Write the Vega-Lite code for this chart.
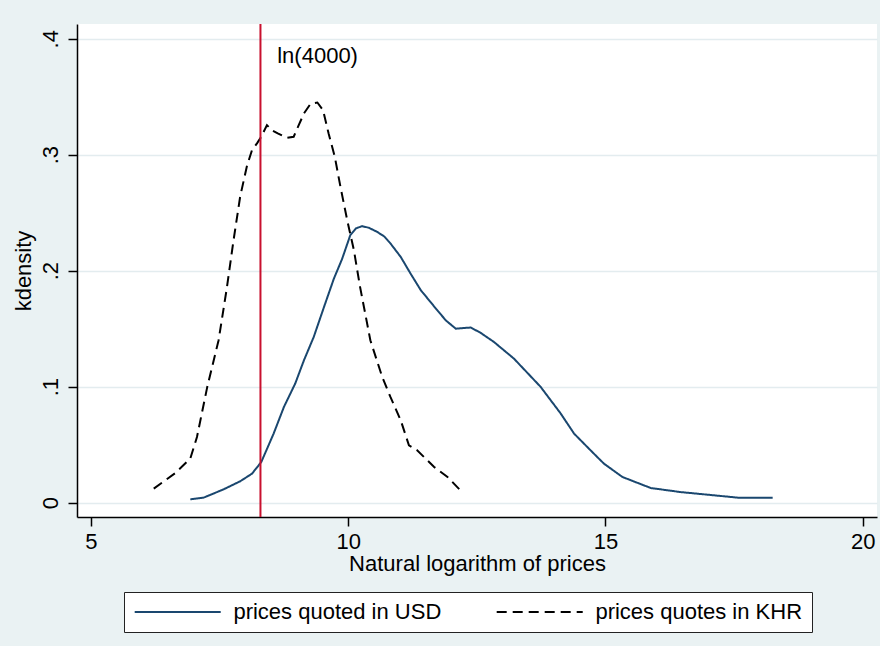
{
  "$schema": "https://vega.github.io/schema/vega-lite/v6.json",
  "width": 800,
  "height": 493,
  "autosize": {"type": "none"},
  "padding": {"left": 77, "top": 24, "right": 3, "bottom": 129},
  "background": "#EAF2F3",
  "config": {
    "view": {"fill": "#FFFFFF", "stroke": null},
    "font": "Liberation Sans",
    "axis": {
      "domainColor": "#000000", "domainWidth": 1.5,
      "tickColor": "#000000", "tickWidth": 1.5, "tickSize": 9,
      "labelFont": "Liberation Sans", "titleFont": "Liberation Sans",
      "labelFontSize": 22, "titleFontSize": 22,
      "labelColor": "#000000", "titleColor": "#000000",
      "titleFontWeight": "normal"
    },
    "legend": {
      "labelFont": "Liberation Sans", "labelFontSize": 22, "labelColor": "#000000"
    }
  },
  "datasets": {
    "curves": [
      {"series": "prices quotes in KHR", "x": 6.22, "y": 0.0121},
      {"series": "prices quotes in KHR", "x": 6.64, "y": 0.0255},
      {"series": "prices quotes in KHR", "x": 6.93, "y": 0.038},
      {"series": "prices quotes in KHR", "x": 7.06, "y": 0.0566},
      {"series": "prices quotes in KHR", "x": 7.26, "y": 0.0998},
      {"series": "prices quotes in KHR", "x": 7.48, "y": 0.140},
      {"series": "prices quotes in KHR", "x": 7.64, "y": 0.185},
      {"series": "prices quotes in KHR", "x": 7.77, "y": 0.226},
      {"series": "prices quotes in KHR", "x": 7.90, "y": 0.264},
      {"series": "prices quotes in KHR", "x": 8.03, "y": 0.290},
      {"series": "prices quotes in KHR", "x": 8.13, "y": 0.304},
      {"series": "prices quotes in KHR", "x": 8.23, "y": 0.310},
      {"series": "prices quotes in KHR", "x": 8.31, "y": 0.3155},
      {"series": "prices quotes in KHR", "x": 8.42, "y": 0.3255},
      {"series": "prices quotes in KHR", "x": 8.52, "y": 0.321},
      {"series": "prices quotes in KHR", "x": 8.63, "y": 0.3184},
      {"series": "prices quotes in KHR", "x": 8.81, "y": 0.3146},
      {"series": "prices quotes in KHR", "x": 8.94, "y": 0.3155},
      {"series": "prices quotes in KHR", "x": 9.01, "y": 0.3227},
      {"series": "prices quotes in KHR", "x": 9.14, "y": 0.3356},
      {"series": "prices quotes in KHR", "x": 9.27, "y": 0.344},
      {"series": "prices quotes in KHR", "x": 9.40, "y": 0.345},
      {"series": "prices quotes in KHR", "x": 9.51, "y": 0.3385},
      {"series": "prices quotes in KHR", "x": 9.62, "y": 0.318},
      {"series": "prices quotes in KHR", "x": 9.74, "y": 0.298},
      {"series": "prices quotes in KHR", "x": 9.85, "y": 0.272},
      {"series": "prices quotes in KHR", "x": 9.98, "y": 0.2436},
      {"series": "prices quotes in KHR", "x": 10.11, "y": 0.2177},
      {"series": "prices quotes in KHR", "x": 10.23, "y": 0.186},
      {"series": "prices quotes in KHR", "x": 10.43, "y": 0.140},
      {"series": "prices quotes in KHR", "x": 10.66, "y": 0.1084},
      {"series": "prices quotes in KHR", "x": 10.82, "y": 0.0911},
      {"series": "prices quotes in KHR", "x": 11.02, "y": 0.071},
      {"series": "prices quotes in KHR", "x": 11.18, "y": 0.0494},
      {"series": "prices quotes in KHR", "x": 11.34, "y": 0.0451},
      {"series": "prices quotes in KHR", "x": 11.67, "y": 0.0307},
      {"series": "prices quotes in KHR", "x": 11.93, "y": 0.0221},
      {"series": "prices quotes in KHR", "x": 12.18, "y": 0.0106},
      {"series": "prices quoted in USD", "x": 6.93, "y": 0.0028},
      {"series": "prices quoted in USD", "x": 7.19, "y": 0.0043},
      {"series": "prices quoted in USD", "x": 7.58, "y": 0.0115},
      {"series": "prices quoted in USD", "x": 7.90, "y": 0.0184},
      {"series": "prices quoted in USD", "x": 8.13, "y": 0.025},
      {"series": "prices quoted in USD", "x": 8.31, "y": 0.035},
      {"series": "prices quoted in USD", "x": 8.55, "y": 0.0595},
      {"series": "prices quoted in USD", "x": 8.75, "y": 0.0825},
      {"series": "prices quoted in USD", "x": 8.97, "y": 0.1027},
      {"series": "prices quoted in USD", "x": 9.14, "y": 0.1228},
      {"series": "prices quoted in USD", "x": 9.33, "y": 0.1429},
      {"series": "prices quoted in USD", "x": 9.53, "y": 0.1688},
      {"series": "prices quoted in USD", "x": 9.72, "y": 0.1930},
      {"series": "prices quoted in USD", "x": 9.88, "y": 0.2100},
      {"series": "prices quoted in USD", "x": 10.04, "y": 0.2306},
      {"series": "prices quoted in USD", "x": 10.15, "y": 0.2365},
      {"series": "prices quoted in USD", "x": 10.27, "y": 0.2384},
      {"series": "prices quoted in USD", "x": 10.40, "y": 0.2370},
      {"series": "prices quoted in USD", "x": 10.56, "y": 0.2335},
      {"series": "prices quoted in USD", "x": 10.70, "y": 0.2295},
      {"series": "prices quoted in USD", "x": 10.82, "y": 0.2235},
      {"series": "prices quoted in USD", "x": 11.02, "y": 0.2119},
      {"series": "prices quoted in USD", "x": 11.21, "y": 0.1976},
      {"series": "prices quoted in USD", "x": 11.41, "y": 0.1832},
      {"series": "prices quoted in USD", "x": 11.73, "y": 0.1659},
      {"series": "prices quoted in USD", "x": 11.90, "y": 0.1570},
      {"series": "prices quoted in USD", "x": 12.09, "y": 0.150},
      {"series": "prices quoted in USD", "x": 12.38, "y": 0.151},
      {"series": "prices quoted in USD", "x": 12.57, "y": 0.1465},
      {"series": "prices quoted in USD", "x": 12.83, "y": 0.1386},
      {"series": "prices quoted in USD", "x": 13.22, "y": 0.1242},
      {"series": "prices quoted in USD", "x": 13.74, "y": 0.0998},
      {"series": "prices quoted in USD", "x": 14.13, "y": 0.0768},
      {"series": "prices quoted in USD", "x": 14.39, "y": 0.0595},
      {"series": "prices quoted in USD", "x": 14.71, "y": 0.0451},
      {"series": "prices quoted in USD", "x": 14.97, "y": 0.0336},
      {"series": "prices quoted in USD", "x": 15.33, "y": 0.0221},
      {"series": "prices quoted in USD", "x": 15.88, "y": 0.0126},
      {"series": "prices quoted in USD", "x": 16.46, "y": 0.0091},
      {"series": "prices quoted in USD", "x": 17.11, "y": 0.0063},
      {"series": "prices quoted in USD", "x": 17.57, "y": 0.0043},
      {"series": "prices quoted in USD", "x": 18.25, "y": 0.0043}
    ]
  },
  "layer": [
    {
      "data": {"name": "curves"},
      "mark": {"type": "line", "strokeWidth": 2, "clip": true},
      "encoding": {
        "x": {
          "field": "x", "type": "quantitative",
          "scale": {"domain": [4.728, 20.278], "nice": false, "zero": false},
          "axis": {
            "values": [5, 10, 15, 20], "grid": false,
            "title": "Natural logarithm of prices",
            "labelPadding": 5, "titlePadding": 1
          }
        },
        "y": {
          "field": "y", "type": "quantitative",
          "scale": {"domain": [-0.0124, 0.4127], "nice": false, "zero": false},
          "axis": {
            "values": [0, 0.1, 0.2, 0.3, 0.4],
            "labelExpr": "datum.value == 0 ? '0' : '.' + round(datum.value * 10)",
            "labelAngle": -90, "labelAlign": "center", "labelBaseline": "bottom",
            "labelPadding": 6,
            "grid": true, "gridColor": "#E3ECEF", "gridWidth": 1.5,
            "title": "kdensity", "titlePadding": 4
          }
        },
        "color": {
          "field": "series", "type": "nominal",
          "scale": {"domain": ["prices quoted in USD", "prices quotes in KHR"], "range": ["#1A476F", "#000000"]},
          "legend": {
            "title": null, "orient": "none", "legendX": 47, "legendY": 568,
            "direction": "horizontal",
            "strokeColor": "#222222", "fillColor": "#FFFFFF",
            "padding": 9,
            "symbolType": "M-1,0H19", "symbolSize": 74, "symbolStrokeWidth": 2,
            "symbolOffset": -5,
            "labelOffset": 83.4, "columnPadding": 50, "labelLimit": 400
          }
        },
        "strokeDash": {
          "field": "series", "type": "nominal",
          "scale": {"domain": ["prices quoted in USD", "prices quotes in KHR"], "range": [[1, 0], [10, 6]]},
          "legend": null
        },
        "order": {"field": "x", "type": "quantitative"}
      }
    },
    {
      "data": {"values": [{"x": 8.294}]},
      "mark": {"type": "rule", "color": "#C8102E", "strokeWidth": 2},
      "encoding": {"x": {"field": "x", "type": "quantitative"}}
    },
    {
      "data": {"values": [{"x": 8.62, "y": 0.385, "label": "ln(4000)"}]},
      "mark": {"type": "text", "align": "left", "baseline": "middle", "fontSize": 22, "font": "Liberation Sans", "color": "#000000"},
      "encoding": {
        "x": {"field": "x", "type": "quantitative"},
        "y": {"field": "y", "type": "quantitative"},
        "text": {"field": "label"}
      }
    }
  ]
}
